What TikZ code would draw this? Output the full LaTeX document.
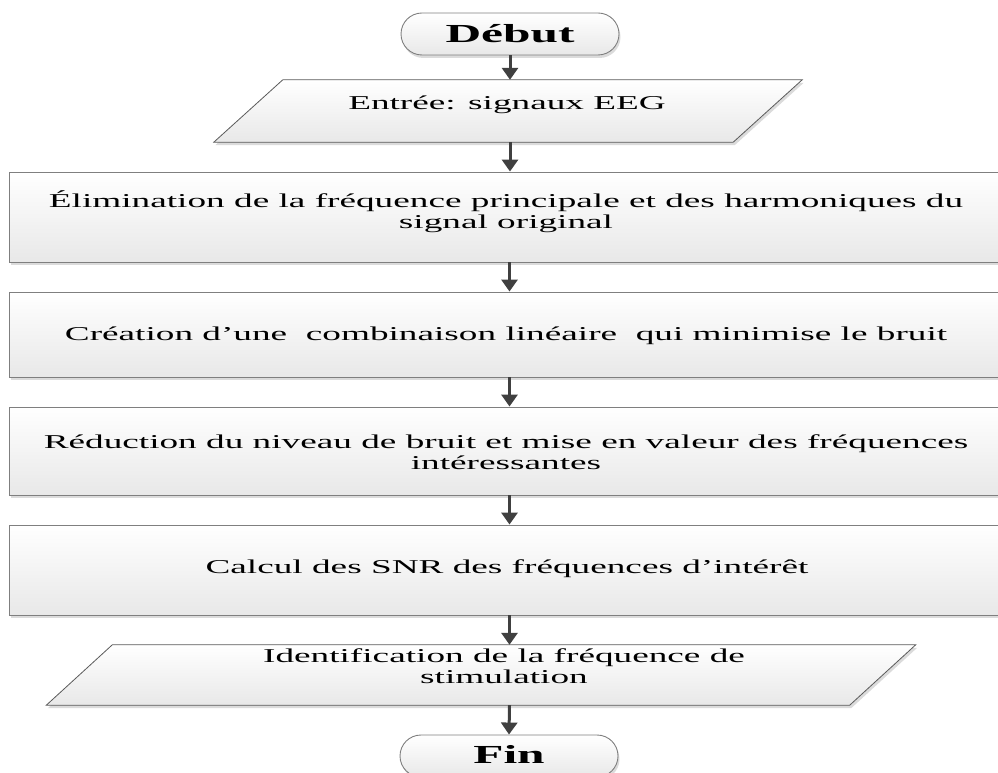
\documentclass[tikz,border=0pt]{standalone}
\usepackage{fontspec}
\setmainfont{Liberation Serif}[FakeStretch=1.9]
\usetikzlibrary{shapes.misc,shadows,arrows.meta}
\definecolor{edgec}{HTML}{7F7F7F}
\definecolor{slantc}{HTML}{5A5A5A}
\definecolor{arrowc}{HTML}{404040}
\begin{document}
\begin{tikzpicture}[x=1pt,y=1pt,
  fillbox/.style={draw=edgec, line width=0.9pt, top color=white, bottom color=black!9,
    drop shadow={shadow xshift=1.5pt, shadow yshift=-3pt, fill=black!14, opacity=1}},
  procbox/.style={fillbox, rectangle, inner sep=2pt, minimum width=1001pt},
  term/.style={fillbox, rounded rectangle, minimum width=222pt, minimum height=42pt,
    inner sep=2pt, font=\fontsize{26}{28}\selectfont\bfseries},
  ioframe/.style={rectangle, inner sep=0pt},
  iopath/.style={fillbox, draw=slantc, line width=0.8pt, line join=miter},
  txt/.style={font=\fontsize{19.6}{21}\selectfont, align=center, inner sep=0pt},
  arr/.style={draw=arrowc, line width=3pt, -{Triangle[width=16pt,length=12pt]}}]
\useasboundingbox (0,0) rectangle (998,772);

% shapes
\node[term] (debut) at (510,738) {Début};
\node[ioframe, minimum width=519pt, minimum height=62pt] (in) at (508,661) {};
\draw[iopath] ([xshift=-34.5pt]in.south west) -- ([xshift=-34.5pt]in.south east)
  -- ([xshift=34.5pt]in.north east) -- ([xshift=34.5pt]in.north west) -- cycle;
\node[procbox, minimum height=90pt] (b1) at (509.5,555) {};
\node[procbox, minimum height=85pt] (b2) at (509.5,437.5) {};
\node[procbox, minimum height=88pt] (b3) at (509.5,321) {};
\node[procbox, minimum height=90pt] (b4) at (509.5,202) {};
\node[ioframe, minimum width=803pt, minimum height=60pt] (out) at (481,97) {};
\draw[iopath] ([xshift=-33pt]out.south west) -- ([xshift=-33pt]out.south east)
  -- ([xshift=33pt]out.north east) -- ([xshift=33pt]out.north west) -- cycle;
\node[term] (fin) at (509,16) {\raisebox{4pt}{Fin}};

% texts
\node[txt, anchor=base] (tin) at (507,662) {Entrée: signaux EEG};
\node[txt, anchor=north] (t1) at (506,581.7) {\strut Élimination de la fréquence principale et des harmoniques du\\\strut signal original};
\node[txt, anchor=base] (t2) at (506,431) {Création d’une\ \ combinaison linéaire\ \ qui minimise le bruit};
\node[txt, anchor=north] (t3) at (506,338) {\strut Réduction du niveau de bruit et mise en valeur des fréquences\\\strut intéressantes};
\node[txt, anchor=base] (t4) at (507,199) {Calcul des SNR des fréquences d’intérêt};
\node[txt, anchor=north] (tout) at (504,124.7) {\strut Identification de la fréquence de\\\strut stimulation};

% connectors
\draw[arr] (debut.south) -- (debut.south |- in.north);
\draw[arr] (in.south -| debut.south) -- (debut.south |- b1.north);
\draw[arr] (b1.south) -- (b2.north);
\draw[arr] (b2.south) -- (b3.north);
\draw[arr] (b3.south) -- (b4.north);
\draw[arr] (b4.south) -- (b4.south |- out.north);
\draw[arr] (b4.south |- out.south) -- (fin.north);
\end{tikzpicture}
\end{document}
